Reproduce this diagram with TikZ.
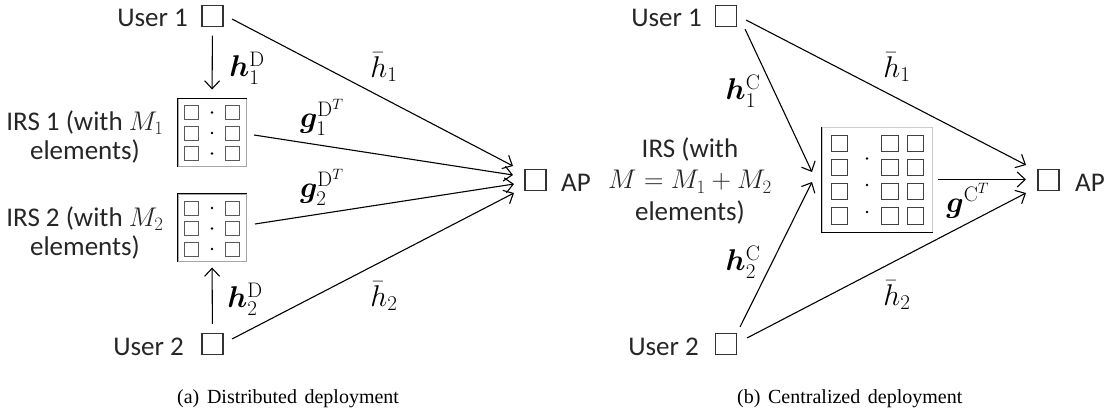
\RequirePackage{fix-cm}
\documentclass[tikz,border=0pt]{standalone}
\usepackage{amsmath}
\usepackage{bm}
\usepackage[no-math]{fontspec}
\setmainfont{Carlito}
\newfontfamily\capfont{Liberation Serif}
\newcommand\capsetup{\capfont\fontsize{20}{22}\selectfont\spaceskip=0.38em plus 0.1em\relax}
\usetikzlibrary{arrows.meta}
\tikzset{
  usr/.style={draw=black!80, line width=1.1pt, minimum size=21pt, inner sep=0pt},
  cell/.style={draw=black!65, line width=0.9pt, minimum size=14pt, inner sep=0pt},
  bigcell/.style={draw=black!75, line width=1pt, minimum size=16.5pt, inner sep=0pt},
  dotn/.style={circle, fill=black, inner sep=0pt, minimum size=2.6pt},
  lnk/.style={line width=1.1pt, -{Straight Barb[length=8pt,width=15pt,line width=1.1pt]}},
  txt/.style={font=\fontsize{27}{29}\selectfont, inner sep=0pt, text=black!85},
  mlbl/.style={font=\fontsize{30}{32}\selectfont, inner sep=0pt},
  capstyle/.style={font=\capsetup, inner sep=0pt, anchor=base west},
  irsbox/.style={draw=black!35, line width=1pt, inner sep=0pt},
}
\begin{document}
\begin{tikzpicture}[x=1pt,y=-1pt]
\useasboundingbox (0,0) rectangle (1109,412);
% ================= (a) distributed =================
\node[usr] (u1) at (212.5,16) {};
\node[txt, anchor=base east] (u1t) at (188,27) {User 1};
\node[usr] (u2) at (212.5,344) {};
\node[txt, anchor=base east] (u2t) at (184,355) {User 2};
\node[usr] (ap) at (535.5,180) {};
\node[txt, anchor=base west] (apt) at (561,191) {AP};

% IRS 1
\node[irsbox, minimum width=68pt, minimum height=67pt] (irs1) at (212,132.5) {};
\draw[black, line width=1pt] (irs1.south west) -- (irs1.north west) -- (irs1.north east);
\foreach \r/\y in {1/112.5,2/133,3/153.5}{
  \node[cell] (a1l\r) at (191.5,\y) {};
  \node[cell] (a1r\r) at (232,\y) {};
  \node[dotn] (a1d\r) at (212,\y) {};
}
% IRS 2
\node[irsbox, minimum width=68pt, minimum height=67pt] (irs2) at (212,227.5) {};
\draw[black, line width=1pt] (irs2.south west) -- (irs2.north west) -- (irs2.north east);
\foreach \r/\y in {1/208,2/228.5,3/249}{
  \node[cell] (a2l\r) at (191.5,\y) {};
  \node[cell] (a2r\r) at (232,\y) {};
  \node[dotn] (a2d\r) at (212,\y) {};
}
\node[txt, align=center] (irs1t) at (85,137) {IRS 1 (with $M_1$\\elements)};
\node[txt, align=center] (irs2t) at (85,233) {IRS 2 (with $M_2$\\elements)};

\draw[lnk, shorten <=8.5pt, shorten >=9pt] (u1.south) -- (irs1.north);
\draw[lnk, shorten <=9pt, shorten >=6pt] (u2.north) -- (irs2.south);

\coordinate (L1s) at (232,19);  \coordinate (L1e) at (513,166);
\coordinate (L2s) at (254,135); \coordinate (L2e) at (513,175);
\coordinate (L3s) at (255,224); \coordinate (L3e) at (514,184);
\coordinate (L4s) at (232,339); \coordinate (L4e) at (514,193);
\draw[lnk] (L1s) -- (L1e);
\draw[lnk] (L2s) -- (L2e);
\draw[lnk] (L3s) -- (L3e);
\draw[lnk] (L4s) -- (L4e);

\node[mlbl] (h1d) at (247,68) {$\bm{h}_1^{\mathrm{D}}$};
\node[mlbl] (h2d) at (245,299) {$\bm{h}_2^{\mathrm{D}}$};
\node[mlbl] (g1d) at (322,117) {$\bm{g}_1^{\mathrm{D}^T}$};
\node[mlbl] (g2d) at (322,187) {$\bm{g}_2^{\mathrm{D}^T}$};
\node[mlbl] (hb1) at (384,67) {$\bar{h}_1$};
\node[mlbl] (hb2) at (384,296) {$\bar{h}_2$};

\node[capstyle] (capa) at (177,403) {(a) Distributed deployment};

% ================= (b) centralized =================
\node[usr] (v1) at (726,16) {};
\node[txt, anchor=base east] (v1t) at (702,27) {User 1};
\node[usr] (v2) at (726,344) {};
\node[txt, anchor=base east] (v2t) at (699,355) {User 2};
\node[usr] (bp) at (1048.5,180) {};
\node[txt, anchor=base west] (bpt) at (1075,191) {AP};

\node[irsbox, draw=black!20, minimum width=110pt, minimum height=105pt] (irs) at (877,179.5) {};
\draw[black, line width=1pt] (irs.north west) -- (irs.south west) -- (irs.south east);
\foreach \r/\y in {1/143.5,2/167.5,3/191.5,4/216}{
  \node[bigcell] (cl\r) at (839.5,\y) {};
  \node[bigcell] (cm\r) at (890,\y) {};
  \node[bigcell] (cr\r) at (915.5,\y) {};
}
\foreach \r/\y in {2/158.5,3/185,4/212}{
  \node[dotn] (cd\r) at (867,\y) {};
}
\node[txt, align=center, font=\fontsize{27}{31.5}\selectfont] (irst) at (690,181) {IRS (with\\$M=M_1+M_2$\\elements)};

\coordinate (R1s) at (745,29);  \coordinate (R1e) at (812,172);
\coordinate (R2s) at (740,327); \coordinate (R2e) at (812,182);
\coordinate (R3s) at (746,20);  \coordinate (R3e) at (1026,165);
\coordinate (R4s) at (747,338); \coordinate (R4e) at (1026,193);
\coordinate (R5s) at (938,179.5); \coordinate (R5e) at (1026,179.5);
\draw[lnk] (R1s) -- (R1e);
\draw[lnk] (R2s) -- (R2e);
\draw[lnk] (R3s) -- (R3e);
\draw[lnk] (R4s) -- (R4e);
\draw[lnk] (R5s) -- (R5e);

\node[mlbl] (h1c) at (743,91) {$\bm{h}_1^{\mathrm{C}}$};
\node[mlbl] (h2c) at (743,262) {$\bm{h}_2^{\mathrm{C}}$};
\node[mlbl] (gc) at (968,201) {$\bm{g}^{\mathrm{C}^T}$};
\node[mlbl] (hc1) at (897,67) {$\bar{h}_1$};
\node[mlbl] (hc2) at (897,295) {$\bar{h}_2$};

\node[capstyle] (capb) at (737,403) {(b) Centralized deployment};
\end{tikzpicture}
\end{document}
